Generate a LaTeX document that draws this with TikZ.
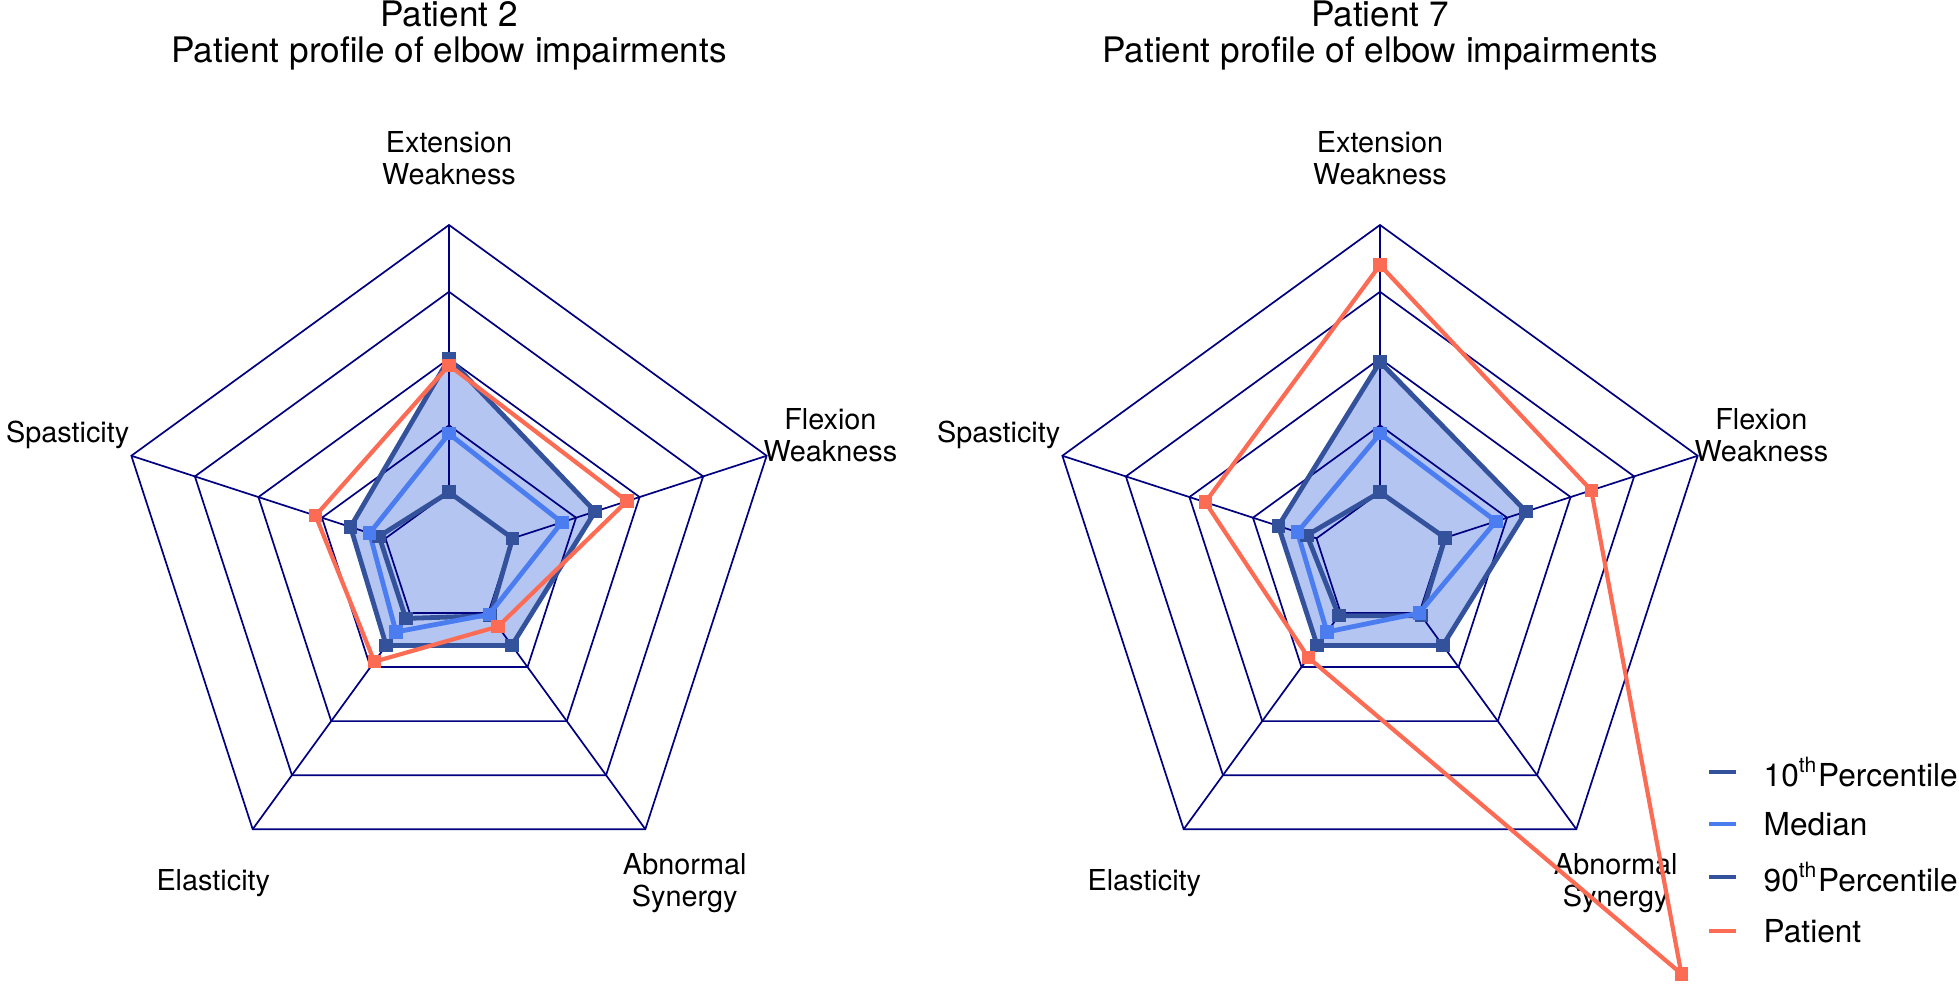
\documentclass[tikz,border=0pt]{standalone}
\usepackage{fontspec}
\setmainfont{TeX Gyre Heros}
\usetikzlibrary{positioning}

\definecolor{gridnavy}{RGB}{0,0,128}
\definecolor{pctdark}{RGB}{52,82,155}
\definecolor{medblue}{RGB}{76,125,240}
\definecolor{patcoral}{RGB}{252,108,84}
\definecolor{pctfill}{RGB}{180,197,242}

\tikzset{
  gridline/.style={draw=gridnavy, line width=0.17mm},
  axislabel/.style={align=center, inner sep=0pt, font=\fontsize{8.2}{9.1}\selectfont},
  titletext/.style={anchor=base, inner sep=0pt, font=\fontsize{10}{12}\selectfont},
  profile/.style={line width=0.48mm, line join=round},
  marker/.style={rectangle, fill, inner sep=0pt, minimum size=1.35mm},
  legline/.style={line width=0.45mm},
  legtext/.style={anchor=west, inner sep=0pt, font=\fontsize{9}{11}\selectfont},
}

\begin{document}
\begin{tikzpicture}[x=0.1mm, y=0.1mm]
\useasboundingbox (0,0) rectangle (1959,984);

% ---- left chart: patient 2
\begin{scope}[shift={(449,425)}]
  \foreach \s/\vals in {L10/{0.20,0.22,0.22,0.21,0.20},
                        Lmed/{0.375,0.25,0.27,0.205,0.355},
                        L90/{0.60,0.31,0.32,0.32,0.46},
                        Lpat/{0.58,0.42,0.38,0.25,0.56}}
    \foreach \v [count=\k] in \vals
      \coordinate (\s-\k) at ({18+72*\k}:{\v*334});
  \fill[pctfill] (L90-1) -- (L90-2) -- (L90-3) -- (L90-4) -- (L90-5) -- cycle;
  \foreach \r in {1,...,5}
    \draw[gridline] (90:\r*66.8) -- (162:\r*66.8) -- (234:\r*66.8) -- (306:\r*66.8) -- (18:\r*66.8) -- cycle;
  \foreach \a in {90,162,234,306,18}
    \draw[gridline] (\a:66.8) -- (\a:334);
  \draw[profile, pctdark] (L10-1) -- (L10-2) -- (L10-3) -- (L10-4) -- (L10-5) -- cycle;
  \draw[profile, medblue] (Lmed-1) -- (Lmed-2) -- (Lmed-3) -- (Lmed-4) -- (Lmed-5) -- cycle;
  \draw[profile, pctdark] (L90-1) -- (L90-2) -- (L90-3) -- (L90-4) -- (L90-5) -- cycle;
  \draw[profile, patcoral, line width=0.42mm] (Lpat-1) -- (Lpat-2) -- (Lpat-3) -- (Lpat-4) -- (Lpat-5) -- cycle;
  \foreach \k in {1,...,5} {
    \node[marker, pctdark] (L10m\k) at (L10-\k) {};
    \node[marker, medblue] (Lmedm\k) at (Lmed-\k) {};
    \node[marker, pctdark] (L90m\k) at (L90-\k) {};
    \node[marker, patcoral] (Lpatm\k) at (Lpat-\k) {};
  }
  \node[axislabel] (Lext) at (90:401) {Extension\\Weakness};
  \node[axislabel] (Lspa) at (162:401) {Spasticity};
  \node[axislabel] (Lela) at (234:401) {Elasticity};
  \node[axislabel] (Labn) at (306:401) {Abnormal\\Synergy};
  \node[axislabel] (Lflx) at (18:401) {Flexion\\Weakness};
  \node[titletext] (Ltitle) at (0,532) {Patient 2};
  \node[titletext] (Lsub) at (0,496) {Patient profile of elbow impairments};
\end{scope}

% ---- right chart: patient 7
\begin{scope}[shift={(1380,425)}]
  \foreach \s/\vals in {R10/{0.20,0.23,0.21,0.21,0.205},
                        Rmed/{0.375,0.26,0.27,0.20,0.365},
                        R90/{0.59,0.32,0.32,0.32,0.46},
                        Rpat/{0.88,0.55,0.365,1.535,0.665}}
    \foreach \v [count=\k] in \vals
      \coordinate (\s-\k) at ({18+72*\k}:{\v*334});
  \fill[pctfill] (R90-1) -- (R90-2) -- (R90-3) -- (R90-4) -- (R90-5) -- cycle;
  \foreach \r in {1,...,5}
    \draw[gridline] (90:\r*66.8) -- (162:\r*66.8) -- (234:\r*66.8) -- (306:\r*66.8) -- (18:\r*66.8) -- cycle;
  \foreach \a in {90,162,234,306,18}
    \draw[gridline] (\a:66.8) -- (\a:334);
  \draw[profile, pctdark] (R10-1) -- (R10-2) -- (R10-3) -- (R10-4) -- (R10-5) -- cycle;
  \draw[profile, medblue] (Rmed-1) -- (Rmed-2) -- (Rmed-3) -- (Rmed-4) -- (Rmed-5) -- cycle;
  \draw[profile, pctdark] (R90-1) -- (R90-2) -- (R90-3) -- (R90-4) -- (R90-5) -- cycle;
  \node[axislabel] (Rext) at (90:401) {Extension\\Weakness};
  \node[axislabel] (Rspa) at (162:401) {Spasticity};
  \node[axislabel] (Rela) at (234:401) {Elasticity};
  \node[axislabel] (Rabn) at (306:401) {Abnormal\\Synergy};
  \node[axislabel] (Rflx) at (18:401) {Flexion\\Weakness};
  \draw[profile, patcoral, line width=0.42mm] (Rpat-1) -- (Rpat-2) -- (Rpat-3) -- (Rpat-4) -- (Rpat-5) -- cycle;
  \foreach \k in {1,...,5} {
    \node[marker, pctdark] (R10m\k) at (R10-\k) {};
    \node[marker, medblue] (Rmedm\k) at (Rmed-\k) {};
    \node[marker, pctdark] (R90m\k) at (R90-\k) {};
    \node[marker, patcoral] (Rpatm\k) at (Rpat-\k) {};
  }
  \node[titletext] (Rtitle) at (0,532) {Patient 7};
  \node[titletext] (Rsub) at (0,496) {Patient profile of elbow impairments};
\end{scope}

% ---- legend
\coordinate (leg10a) at (1709,212); \coordinate (leg10b) at (1736,212);
\coordinate (legmda) at (1709,160); \coordinate (legmdb) at (1736,160);
\coordinate (leg90a) at (1709,107); \coordinate (leg90b) at (1736,107);
\coordinate (legpta) at (1709,53);  \coordinate (legptb) at (1736,53);
\draw[legline, pctdark] (leg10a) -- (leg10b);
\draw[legline, medblue] (legmda) -- (legmdb);
\draw[legline, pctdark] (leg90a) -- (leg90b);
\draw[legline, patcoral] (legpta) -- (legptb);
\node[legtext, right=2.7mm of leg10b] (leg10) {10\textsuperscript{th}Percentile};
\node[legtext, right=2.7mm of legmdb] (legmd) {Median};
\node[legtext, right=2.7mm of leg90b] (leg90) {90\textsuperscript{th}Percentile};
\node[legtext, right=2.7mm of legptb] (legpt) {Patient};
\end{tikzpicture}
\end{document}
